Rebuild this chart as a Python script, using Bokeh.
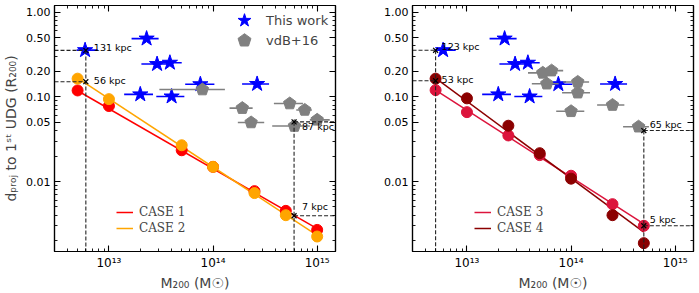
from bokeh.plotting import figure
from bokeh.layouts import row
from bokeh.models import (FixedTicker, LogAxis, Legend, LegendItem, PrintfTickFormatter,
                          CustomJSTickFormatter, Range1d)
from bokeh.core.properties import value
from bokeh.embed import file_html
from bokeh.resources import INLINE

# ---------------- data ----------------
# Cases 1 & 2 (left panel)
mass_left = [5e12, 1e13, 5e13, 1e14, 2.5e14, 5e14, 1e15]
case1 = [0.119, 0.078, 0.0234, 0.0149, 0.0077, 0.0045, 0.00268]
case2 = [0.164, 0.094, 0.0268, 0.0149, 0.0073, 0.0040, 0.00224]
case1_fit_m = [5e12, 1e15]
case1_fit_d = [0.118, 0.00277]
case2_fit_m = [5e12, 1e15]
case2_fit_d = [0.166, 0.00231]

# Cases 3 & 4 (right panel)
mass_right = [5e12, 1e13, 2.5e13, 5e13, 1e14, 2.5e14, 5e14]
case3 = [0.12, 0.066, 0.035, 0.0205, 0.0117, 0.0054, 0.0030]
case4 = [0.164, 0.096, 0.0456, 0.0216, 0.0108, 0.0040, 0.00187]
case3_fit_m = [5e12, 5e14]
case3_fit_d = [0.12, 0.00316]
case4_fit_m = [5e12, 5e14]
case4_fit_d = [0.166, 0.00253]

# This work (stars, both panels)
star_m = [5.9e12, 2.3e13, 2.9e13, 3.85e13, 2.0e13, 4.0e13, 7.55e13, 2.65e14]
star_lo = [4.9e12, 1.65e13, 2.05e13, 2.8e13, 1.4e13, 2.85e13, 5.4e13, 1.9e14]
star_hi = [7.8e12, 3.0e13, 4.0e13, 5.0e13, 2.65e13, 5.3e13, 1.03e14, 3.45e14]
star_d = [0.356, 0.488, 0.244, 0.253, 0.107, 0.101, 0.141, 0.142]

# vdB+16 (pentagons), left panel
vdb_left_m = [7.9e13, 1.91e14, 2.32e14, 5.45e14, 7.6e14, 1.0e15, 6.05e14]
vdb_left_lo = [3.05e13, 1.44e14, 1.73e14, 3.84e14, 6.3e14, 8.5e14, 3.7e14]
vdb_left_hi = [1.3e14, 2.4e14, 3.1e14, 7.3e14, 8.9e14, 1.32e15, 8.5e14]
vdb_left_d = [0.122, 0.0736, 0.0498, 0.0834, 0.070, 0.0535, 0.0452]

# vdB+16 (pentagons), right panel
vdb_right_m = [5.35e13, 6.5e13, 5.85e13, 1.16e14, 1.16e14, 1.0e14, 2.5e14, 4.45e14]
vdb_right_lo = [3.86e13, 5.0e13, 4.2e13, 8.4e13, 8.2e13, 7.2e13, 1.78e14, 3.16e14]
vdb_right_hi = [7.4e13, 8.4e13, 7.6e13, 1.49e14, 1.52e14, 1.34e14, 3.25e14, 5.6e14]
vdb_right_d = [0.192, 0.204, 0.143, 0.150, 0.112, 0.0675, 0.080, 0.0444]

# marked distances
ann_left_m = [6e12, 6e12, 6e14, 6e14]
ann_left_d = [0.354, 0.151, 0.0507, 0.00394]
ann_left_txt = ["131 kpc", "56 kpc", "87 kpc", "7 kpc"]
ann_right_m = [5e12, 5e12, 5e14, 5e14]
ann_right_d = [0.355, 0.155, 0.040, 0.0030]
ann_right_txt = ["123 kpc", "53 kpc", "65 kpc", "5 kpc"]

# axes
x_major = [1e13, 1e14, 1e15]
x_minor = [4e12, 5e12, 6e12, 7e12, 8e12, 9e12,
           2e13, 3e13, 4e13, 5e13, 6e13, 7e13, 8e13, 9e13,
           2e14, 3e14, 4e14, 5e14, 6e14, 7e14, 8e14, 9e14]
y_major = [0.01, 0.05, 0.1, 0.2, 0.5, 1.0]
y_minor = [0.002, 0.003, 0.004, 0.005, 0.006, 0.007, 0.008, 0.009,
           0.02, 0.03, 0.04, 0.06, 0.07, 0.08, 0.09,
           0.3, 0.4, 0.6, 0.7, 0.8, 0.9]
XMIN, XMAX = 3e12, 1.5e15
YMIN, YMAX = 0.00149, 1.2

FONT = "DejaVu Sans"
sup_js = """
const s = {'0':'\u2070','1':'\u00b9','2':'\u00b2','3':'\u00b3','4':'\u2074','5':'\u2075','6':'\u2076','7':'\u2077','8':'\u2078','9':'\u2079','-':'\u207b'};
const e = Math.round(Math.log10(tick)).toString();
return '10' + e.split('').map(c => s[c]).join('');
"""


def style_axis(ax, show, size="11px"):
    ax.major_tick_in = 6
    ax.major_tick_out = 0
    ax.minor_tick_in = 3
    ax.minor_tick_out = 0
    ax.axis_line_color = "black"
    ax.axis_line_width = 1.2
    ax.major_tick_line_color = "black"
    ax.minor_tick_line_color = "black"
    ax.major_tick_line_width = 1.1
    ax.minor_tick_line_width = 0.9
    if show:
        ax.major_label_text_font = FONT
        ax.major_label_text_font_size = size
        ax.major_label_text_color = "black"
        ax.major_label_standoff = 4
    else:
        ax.major_label_text_font_size = "1px"
        ax.major_label_text_color = None
        ax.major_label_standoff = 0


def marker_legend(label, renderer, loc):
    lt = Legend(items=[LegendItem(label=label, renderers=[renderer])], location=loc)
    lt.label_text_font = FONT
    lt.label_text_font_size = "13px"
    lt.glyph_width = 34
    lt.glyph_height = 34
    lt.label_height = 18
    lt.spacing = 0
    lt.label_standoff = 5
    lt.padding = 0
    lt.margin = 0
    lt.border_line_color = None
    lt.background_fill_alpha = 0
    return lt


def make_panel(width, mb_left, mb_right, mass, ca, cb, fa_m, fa_d, fb_m, fb_d,
               col_a, col_b, lab_a, lab_b, vm, vlo, vhi, vd,
               am, ad, atxt, adx, ady, show_ylabel, show_top_legend):
    p = figure(width=width, height=293, x_axis_type="log", y_axis_type="log",
               x_range=Range1d(XMIN, XMAX), y_range=Range1d(YMIN, YMAX),
               output_backend="svg", toolbar_location=None,
               min_border_left=mb_left, min_border_right=mb_right,
               min_border_top=5, min_border_bottom=36)
    p.grid.visible = False
    p.outline_line_color = "black"
    p.outline_line_width = 1.2
    p.background_fill_color = "white"

    xt = FixedTicker(ticks=x_major, minor_ticks=x_minor)
    yt = FixedTicker(ticks=y_major, minor_ticks=y_minor)
    p.xaxis.ticker = xt
    p.yaxis.ticker = yt
    p.xaxis.formatter = CustomJSTickFormatter(code=sup_js)
    p.yaxis.formatter = PrintfTickFormatter(format="%.2f")
    style_axis(p.xaxis[0], True, "12px")
    style_axis(p.yaxis[0], True, "11px")
    p.xaxis.axis_label = "M\u2082\u2080\u2080 (M\u2609)"
    p.xaxis.axis_label_text_font = FONT
    p.xaxis.axis_label_text_font_size = "14px"
    p.xaxis.axis_label_text_font_style = "normal"
    p.xaxis.axis_label_standoff = 2
    if show_ylabel:
        p.yaxis.axis_label = "d\u209a\u1d63\u2092\u2c7c to 1\u02e2\u1d57 UDG (R\u2082\u2080\u2080)"
        p.yaxis.axis_label_text_font = FONT
        p.yaxis.axis_label_text_font_size = "14px"
        p.yaxis.axis_label_text_font_style = "normal"
        p.yaxis.axis_label_standoff = 4
    top = LogAxis(ticker=FixedTicker(ticks=x_major, minor_ticks=x_minor))
    right = LogAxis(ticker=FixedTicker(ticks=y_major, minor_ticks=y_minor))
    style_axis(top, False)
    style_axis(right, False)
    p.add_layout(top, "above")
    p.add_layout(right, "right")

    # model lines and points
    la = p.line(fa_m, fa_d, line_color=col_a, line_width=1.5)
    lb = p.line(fb_m, fb_d, line_color=col_b, line_width=1.5)
    p.scatter(mass, ca, size=11, marker="circle", fill_color=col_a, line_color=col_a)
    p.scatter(mass, cb, size=11, marker="circle", fill_color=col_b, line_color=col_b)

    # this work
    p.segment(star_lo, star_d, star_hi, star_d, line_color="blue", line_width=1.6)
    rs = p.scatter(star_m, star_d, marker="star", size=16, fill_color="blue", line_color="blue")
    # vdB+16
    p.segment(vlo, vd, vhi, vd, line_color="gray", line_width=1.6)
    rp = p.ngon(x=vm, y=vd, radius=6.5, radius_units="screen", n=5,
                fill_color="gray", line_color="gray", angle=0)

    # dashed guides
    left_idx = [0, 1]
    right_idx = [2, 3]
    p.segment([XMIN] * 2, [ad[i] for i in left_idx], [am[i] for i in left_idx],
              [ad[i] for i in left_idx], line_color="#222222", line_width=1.1, line_dash="4 2")
    p.segment([am[i] for i in right_idx], [ad[i] for i in right_idx], [XMAX] * 2,
              [ad[i] for i in right_idx], line_color="#222222", line_width=1.1, line_dash="4 2")
    p.segment([am[0], am[2]], [ad[0], ad[2]], [am[0], am[2]], [YMIN, YMIN],
              line_color="#222222", line_width=1.1, line_dash="4 2")
    p.scatter(am, ad, marker="x", size=7, line_color="black", line_width=1.2)
    p.text(am, ad, text=atxt, x_offset=adx, y_offset=ady,
           text_font=value(FONT), text_font_size="9.5px", text_baseline="middle",
           text_align="left", text_color="black")

    lg = Legend(items=[LegendItem(label=lab_a, renderers=[la]),
                       LegendItem(label=lab_b, renderers=[lb])],
                location=(62, 16))
    lg.label_text_font = "DejaVu Serif"
    lg.label_text_font_size = "12px"
    lg.glyph_width = 17
    lg.glyph_height = 14
    lg.label_height = 14
    lg.spacing = 2
    lg.label_standoff = 6
    lg.padding = 2
    lg.border_line_color = None
    lg.background_fill_alpha = 0
    p.add_layout(lg, "center")

    if show_top_legend:
        p.add_layout(marker_legend("This work", rs, (173, 214)), "center")
        p.add_layout(marker_legend("vdB+16", rp, (173, 194)), "center")
    return p


p1 = make_panel(350, 53, 15, mass_left, case1, case2, case1_fit_m, case1_fit_d,
                case2_fit_m, case2_fit_d, "red", "orange", "CASE 1", "CASE 2",
                vdb_left_m, vdb_left_lo, vdb_left_hi, vdb_left_d,
                ann_left_m, ann_left_d, ann_left_txt, [8, 8, 8, 8], [-3, -1, 5, -9],
                True, True)
p2 = make_panel(349, 62, 6, mass_right, case3, case4, case3_fit_m, case3_fit_d,
                case4_fit_m, case4_fit_d, "crimson", "darkred", "CASE 3", "CASE 4",
                vdb_right_m, vdb_right_lo, vdb_right_hi, vdb_right_d,
                ann_right_m, ann_right_d, ann_right_txt, [6, 6, 6, 6], [-4, -1, -6, -6],
                False, False)

layout = row(p1, p2)
open("out.html", "w").write(file_html(layout, INLINE))
